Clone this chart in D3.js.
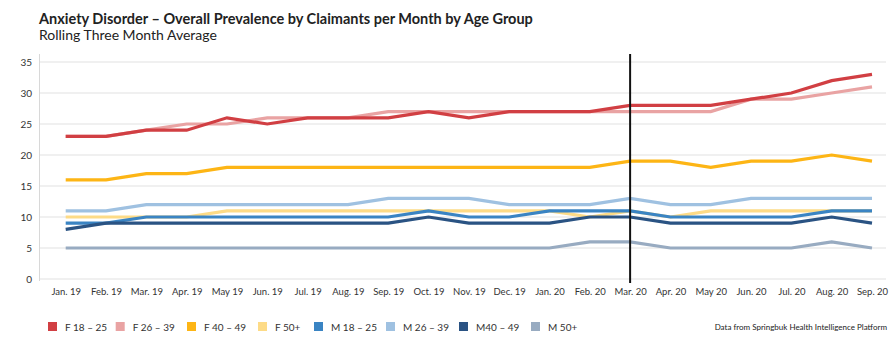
<!DOCTYPE html>
<html><head><meta charset="utf-8">
<script src="https://cdn.jsdelivr.net/npm/d3@7"></script>
<style>
body{margin:0;background:#fff;}
svg{display:block;font-family:Lato, "Open Sans", sans-serif;}
</style></head>
<body><svg id="c" width="893" height="356"></svg>
<script>
const months = ["Jan. 19","Feb. 19","Mar. 19","Apr. 19","May 19","Jun. 19","Jul. 19","Aug. 19","Sep. 19","Oct. 19","Nov. 19","Dec. 19","Jan. 20","Feb. 20","Mar. 20","Apr. 20","May 20","Jun. 20","Jul. 20","Aug. 20","Sep. 20"];
const yTicks = [0,5,10,15,20,25,30,35];
const seriesNames = ["F 18 – 25","F 26 – 39","F 40 – 49","F 50+","M 18 – 25","M 26 – 39","M40 – 49","M 50+"];
const seriesColors = ["#d13f43","#e9a3a3","#fdb515","#fddb87","#3a84c3","#9fc1e1","#2a5383","#98abc1"];
const f1825 = [23,23,24,24,26,25,26,26,26,27,26,27,27,27,28,28,28,29,30,32,33];
const f2639 = [23,23,24,25,25,26,26,26,27,27,27,27,27,27,27,27,27,29,29,30,31];
const f4049 = [16,16,17,17,18,18,18,18,18,18,18,18,18,18,19,19,18,19,19,20,19];
const f50p  = [10,10,10,10,11,11,11,11,11,11,11,11,11,10,11,10,11,11,11,11,11];
const m1825 = [9,9,10,10,10,10,10,10,10,11,10,10,11,11,11,10,10,10,10,11,11];
const m2639 = [11,11,12,12,12,12,12,12,13,13,13,12,12,12,13,12,12,13,13,13,13];
const m4049 = [8,9,9,9,9,9,9,9,9,10,9,9,9,10,10,9,9,9,9,10,9];
const m50p  = [5,5,5,5,5,5,5,5,5,5,5,5,5,6,6,5,5,5,5,6,5];
const seriesValues = [f1825,f2639,f4049,f50p,m1825,m2639,m4049,m50p];
const markerMonth = "Mar. 20";
const title = "Anxiety Disorder – Overall Prevalence by Claimants per Month by Age Group";
const subtitle = "Rolling Three Month Average";
const source = "Data from Springbuk Health Intelligence Platform";

const svg = d3.select("#c");
const x = d3.scalePoint().domain(months).range([65.7, 872]);
const y = d3.scaleLinear().domain([0,35]).range([279, 62]);

svg.append("text").attr("x",39).attr("y",24).attr("font-size",14.5).attr("font-weight",700).attr("fill","#222").text(title);
svg.append("text").attr("x",39).attr("y",40).attr("font-size",14).attr("fill","#222").text(subtitle);

// grid
svg.append("g").selectAll("line").data(yTicks).join("line")
  .attr("x1",39).attr("x2",886).attr("y1",d=>y(d)).attr("y2",d=>y(d))
  .attr("stroke","#e1e1e1").attr("stroke-width",1);
svg.append("line").attr("x1",39.5).attr("x2",39.5).attr("y1",54).attr("y2",281).attr("stroke","#d8d8d8");

const yAxis = svg.append("g").attr("transform","translate(39,0)")
  .call(d3.axisLeft(y).tickValues(yTicks).tickSize(0).tickPadding(7));
yAxis.select(".domain").remove();
yAxis.selectAll("text").attr("font-size",10).attr("fill","#333").attr("font-family","Lato, sans-serif");

const xAxis = svg.append("g").attr("transform","translate(0,287)")
  .call(d3.axisBottom(x).tickSize(0).tickPadding(1.5));
xAxis.select(".domain").remove();
xAxis.selectAll("text").attr("font-size",9.5).attr("fill","#333").attr("font-family","Lato, sans-serif");

const line = d3.line().x((d,i)=>x(months[i])).y(d=>y(d));
const order = [7,3,5,4,6,2,1,0];
svg.append("g").selectAll("path").data(order).join("path")
  .attr("d",i=>line(seriesValues[i])).attr("fill","none")
  .attr("stroke",i=>seriesColors[i]).attr("stroke-width",3.2)
  .attr("stroke-linejoin","miter");

svg.append("line").attr("x1",x(markerMonth)).attr("x2",x(markerMonth))
  .attr("y1",54).attr("y2",283).attr("stroke","#111").attr("stroke-width",2);

// legend
const legX = [48,115.7,187,258,314,386,459,531];
const lg = svg.append("g").selectAll("g").data(seriesNames).join("g")
  .attr("transform",(d,i)=>`translate(${legX[i]},322)`);
lg.append("rect").attr("width",9).attr("height",9).attr("fill",(d,i)=>seriesColors[i]);
lg.append("text").attr("x",17).attr("y",8.5).attr("font-size",10).attr("fill","#333").text(d=>d);

svg.append("text").attr("x",887).attr("y",330).attr("text-anchor","end").attr("font-size",8).attr("fill","#222").text(source);
</script></body></html>
